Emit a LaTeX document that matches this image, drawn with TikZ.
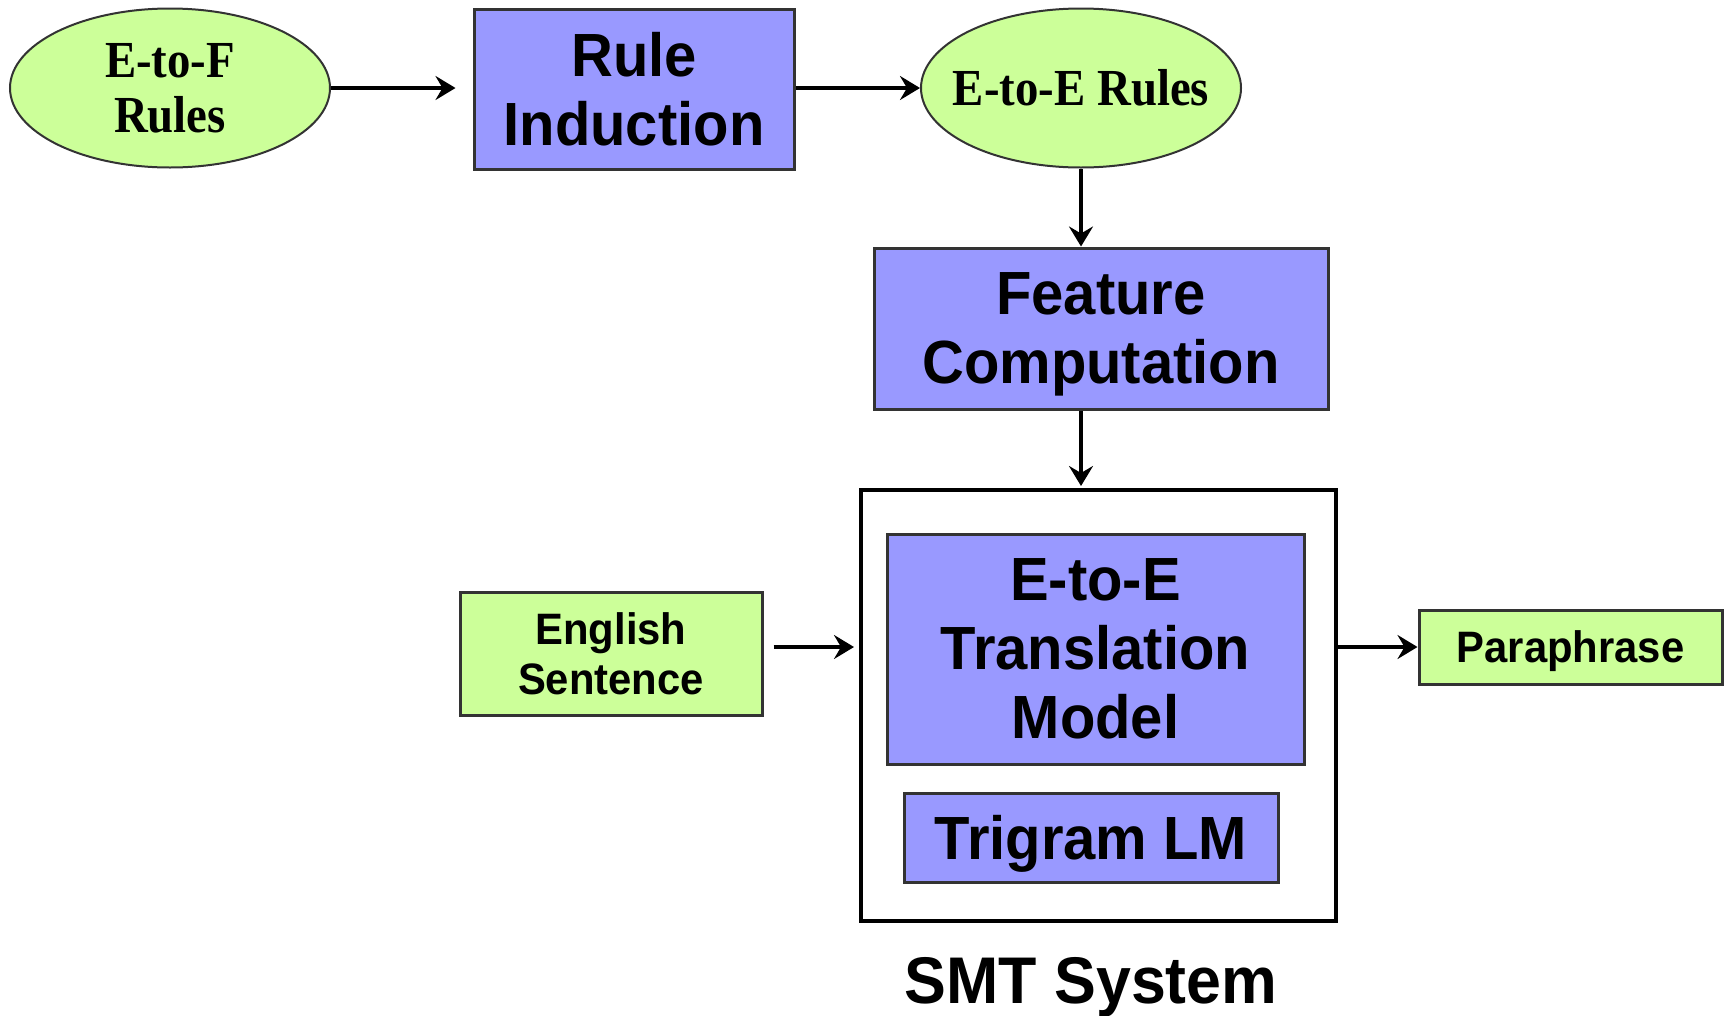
\documentclass[tikz,border=0pt]{standalone}
\usepackage{fontspec}
\setmainfont{Liberation Serif}[FakeStretch=0.9]
\newfontfamily\sansfam{Liberation Sans}[FakeStretch=0.95]
\usetikzlibrary{shapes.geometric,arrows.meta,calc}
\definecolor{lgreen}{HTML}{CCFF99}
\definecolor{lblue}{HTML}{9999FF}
\definecolor{bord}{HTML}{333333}
\begin{document}
\begin{tikzpicture}[x=1pt,y=-1pt,
  ellnode/.style={ellipse,draw=bord,line width=2pt,fill=lgreen,inner sep=0pt,inner xsep=-80pt,
    align=center,font=\bfseries\fontsize{52}{55}\selectfont},
  bluebox/.style={rectangle,draw=bord,line width=3pt,fill=lblue,inner sep=0pt,text depth=0pt,
    align=center,font=\sansfam\bfseries\fontsize{61}{69}\selectfont},
  greenbox/.style={rectangle,draw=bord,line width=3pt,fill=lgreen,inner sep=0pt,text depth=0pt,
    align=center,font=\sansfam\bfseries\fontsize{44}{50}\selectfont},
  arr/.style={line width=3.3pt,-{Stealth[length=20pt,width=24pt,inset=7pt]}}]
\useasboundingbox (0,0) rectangle (1724,1015);
\node[ellnode,minimum width=320pt,minimum height=159pt] (etof) at (170,88) {E-to-F\\Rules};
\node[bluebox,minimum width=320pt,minimum height=160pt] (rule) at (634,89) {Rule\\Induction};
\node[ellnode,minimum width=320pt,minimum height=159pt] (etoe) at (1081,88) {E-to-E Rules};
\node[bluebox,minimum width=454pt,minimum height=161pt] (feat) at (1101,328.5) {Feature\\Computation};
\node[rectangle,draw=black,line width=4pt,minimum width=475pt,minimum height=431pt,inner sep=0pt] (smt) at (1098.5,705.5) {};
\node[bluebox,minimum width=417pt,minimum height=230pt] (tm) at (1095.5,649) {E-to-E\\Translation\\Model};
\node[bluebox,minimum width=374pt,minimum height=89pt] (lm) at (1091,837.5) {Trigram LM};
\node[anchor=base,font=\sansfam\bfseries\fontsize{66}{70}\selectfont,inner sep=0pt] (lbl) at (1091,1003) {SMT System};
\node[greenbox,minimum width=302pt,minimum height=123pt] (eng) at (611,653.5) {English\\Sentence};
\node[greenbox,minimum width=303pt,minimum height=74pt] (para) at (1570.5,647) {Paraphrase};
\draw[arr,shorten >=17pt] (etof.east) -- (etof.east -| rule.west);
\draw[arr] (rule.east |- etoe) -- (etoe.west);
\draw[arr] (etoe.south) -- (etoe.south |- feat.north);
\draw[arr,shorten >=2pt] (etoe.south |- feat.south) -- (etoe.south |- smt.north);
\draw[arr,shorten <=10pt,shorten >=5pt] (eng.east |- para) -- (smt.west |- para);
\draw[arr] (smt.east |- para) -- (para.west);
\end{tikzpicture}
\end{document}
